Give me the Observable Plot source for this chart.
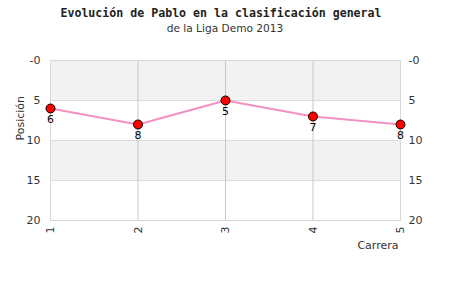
<!DOCTYPE html>
<html><head><meta charset="utf-8">
<script src="https://cdn.jsdelivr.net/npm/d3@7"></script>
<script src="https://cdn.jsdelivr.net/npm/@observablehq/plot@0.6"></script>
<style>
body{margin:0;background:#fff;width:450px;height:300px;overflow:hidden}
#t{font-family:"DejaVu Sans Mono";font-weight:bold;font-size:11.6px;text-align:center;padding-top:4px;padding-right:8px;line-height:18px;height:18px;color:#222}
#s{font-family:"DejaVu Sans";font-size:10.6px;text-align:center;line-height:12px;height:12px;color:#333}
svg{display:block}
</style></head><body>
<div id="t">Evolución de Pablo en la clasificación general</div>
<div id="s">de la Liga Demo 2013</div>
<div id="c"></div>
<script>
const carreras = [1, 2, 3, 4, 5];
const posiciones = [6, 8, 5, 7, 8];
const yTicks = [0, 5, 10, 15, 20];
const bands = [[0, 5], [10, 15]];

const data = carreras.map((c, i) => ({carrera: c, pos: posiciones[i]}));
const bandData = bands.map(([a, b]) => ({a, b}));

const chart = Plot.plot({
  width: 450,
  height: 266,
  marginTop: 26,
  marginBottom: 80,
  marginLeft: 50,
  marginRight: 50,
  style: {fontFamily: "DejaVu Sans", fontSize: "11px", color: "#333", background: "#fff"},
  x: {domain: [1, 5], ticks: carreras},
  y: {domain: [0, 20], reverse: true, ticks: yTicks},
  marks: [
    Plot.rect(bandData, {x1: 1, x2: 5, y1: "a", y2: "b", fill: "#f2f2f2"}),
    Plot.ruleY([5, 10, 15], {stroke: "#dcdcdc"}),
    Plot.ruleX([2, 3, 4], {stroke: "#c8c8c8"}),
    Plot.frame({stroke: "#d8d8d8"}),
    Plot.axisY({anchor: "left", ticks: yTicks, tickSize: 0, tickPadding: 10, label: null,
      tickFormat: d => d === 0 ? "-0" : String(d), fill: "#333"}),
    Plot.axisY({anchor: "right", ticks: yTicks, tickSize: 0, tickPadding: 8, label: null,
      tickFormat: d => d === 0 ? "-0" : String(d), fill: "#333"}),
    Plot.axisX({ticks: carreras, tickSize: 0, tickPadding: 6, tickRotate: -90, label: null,
      tickFormat: d => String(d), fill: "#333"}),
    Plot.line(data, {x: "carrera", y: "pos", stroke: "#f391c3", strokeWidth: 2}),
    Plot.dot(data, {x: "carrera", y: "pos", r: 4.5, fill: "#ff0000", stroke: "#000", strokeWidth: 1}),
    Plot.text(data, {x: "carrera", y: "pos", text: d => String(d.pos), dy: 11, fill: "#000", fontSize: 11}),
    Plot.text(["Carrera"], {frameAnchor: "bottom-right", dy: 28, dx: -2, textAnchor: "end", fill: "#333"}),
    Plot.text(["Posición"], {frameAnchor: "left", dx: -30, rotate: -90, fill: "#333"})
  ]
});
document.getElementById("c").appendChild(chart);
</script>
</body></html>
